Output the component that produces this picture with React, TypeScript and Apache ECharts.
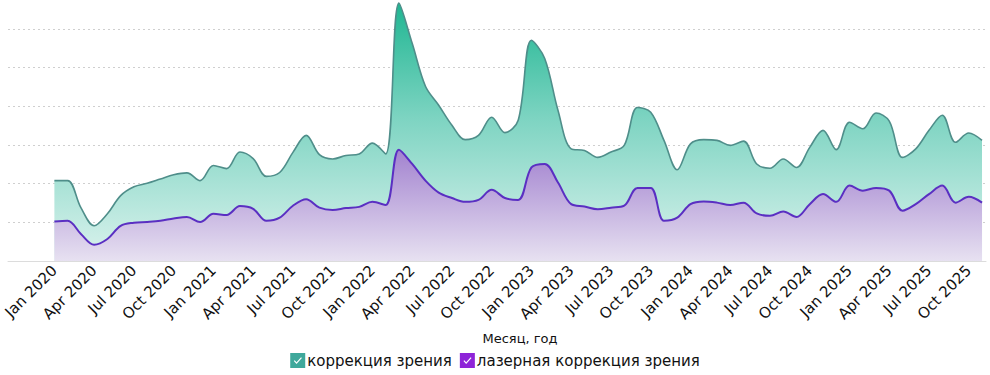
import React, { useEffect, useRef } from "react";
import * as echarts from "echarts";

const monthNames = ["Jan", "Feb", "Mar", "Apr", "May", "Jun", "Jul", "Aug", "Sep", "Oct", "Nov", "Dec"];
const years = [2020, 2021, 2022, 2023, 2024, 2025];
const categories: string[] = [];
years.forEach((y) => monthNames.forEach((m) => categories.push(m + " " + y)));
const months = categories.slice(0, 71); // Jan 2020 .. Nov 2025

const correction = [
  20.8, 20.8, 13.8, 9.1, 12.2, 16.9, 19.2, 20.1, 21.2, 22.3, 22.8, 20.8,
  24.7, 23.9, 28.2, 26.5, 21.9, 22.9, 28.1, 32.5, 27.5, 26.4, 27.3, 27.7,
  30.5, 27.7, 66.7, 56.3, 45.2, 40.3, 35.1, 31.4, 32.5, 37.2, 33.2, 36.4,
  57.1, 52.4, 39.0, 29.0, 28.6, 26.8, 28.2, 29.9, 39.7, 38.5, 31.2, 23.6,
  30.3, 31.4, 31.2, 29.9, 31.0, 25.1, 24.0, 26.4, 24.2, 29.4, 33.8, 28.8,
  35.9, 34.2, 38.3, 36.2, 26.8, 29.0, 33.8, 37.7, 30.7, 33.1, 31.2,
];

const laser = [
  10.2, 10.4, 7.0, 4.2, 5.7, 9.1, 9.9, 10.1, 10.4, 11.0, 11.4, 10.1,
  12.2, 11.9, 14.2, 13.5, 10.4, 11.2, 14.3, 16.0, 13.8, 13.2, 13.7, 14.0,
  15.3, 14.5, 28.8, 25.1, 20.8, 17.7, 16.3, 15.3, 15.8, 18.4, 16.3, 15.8,
  24.2, 25.1, 20.3, 14.7, 14.1, 13.4, 13.8, 14.3, 18.9, 18.9, 10.4, 11.2,
  14.7, 15.4, 15.1, 14.5, 15.1, 12.3, 11.7, 12.8, 11.4, 14.7, 17.3, 15.3,
  19.5, 18.2, 18.9, 18.2, 13.0, 14.7, 17.3, 19.5, 15.1, 16.6, 15.1,
];

const tickIndices = months.map((_, i) => i).filter((i) => i % 3 === 0);
const seriesNames = ["коррекция зрения", "лазерная коррекция зрения"];

const checkIcon =
  "path://M0,0 L100,0 L100,100 L0,100 Z M24,54 L42,74 L78,34 L72,28 L42,61 L30,48 Z";

export default function App() {
  const ref = useRef<HTMLDivElement>(null);
  useEffect(() => {
    if (!ref.current) return;
    const chart = echarts.init(ref.current, undefined, { renderer: "svg" });
    chart.setOption({
      animation: false,
      textStyle: { fontFamily: "DejaVu Sans" },
      grid: { left: 8, right: 4, top: 2, bottom: 114, containLabel: false },
      legend: {
        bottom: 2,
        left: "center",
        itemWidth: 15,
        itemHeight: 15,
        itemGap: 8,
        icon: checkIcon,
        textStyle: { fontSize: 15, color: "#111", fontFamily: "DejaVu Sans", padding: [0, 0, 0, -3] },
        data: [
          { name: seriesNames[0], itemStyle: { color: "#3fa89b", borderWidth: 0 } },
          { name: seriesNames[1], itemStyle: { color: "#8e24d8", borderWidth: 0 } },
        ],
      },
      xAxis: {
        type: "value",
        min: -3.5,
        max: months.length - 1 + 0.3,
        name: "Месяц, год",
        nameLocation: "middle",
        nameGap: 71,
        nameTextStyle: { fontSize: 13, color: "#111", padding: [0, 0, 0, 46] },
        axisLine: { show: true, lineStyle: { color: "#dcdcdc", width: 1 } },
        axisTick: { show: false },
        splitLine: { show: false },
        axisLabel: {
          customValues: tickIndices,
          rotate: 45,
          margin: 7,
          fontSize: 15,
          color: "#111",
          formatter: (v: number) => months[Math.round(v)] ?? "",
        },
      },
      yAxis: {
        type: "value",
        min: 0,
        max: 67,
        interval: 10,
        axisLine: { show: false },
        axisTick: { show: false },
        axisLabel: { show: false },
        splitLine: {
          show: true,
          showMinLine: false,
          showMaxLine: false,
          lineStyle: { color: "#cfcfcf", type: [2, 3], width: 1 },
        },
      },
      series: [
        {
          name: seriesNames[0],
          type: "line",
          smooth: 0.35,
          symbol: "none",
          clip: false,
          data: correction.map((v, i) => [i, v]),
          itemStyle: { color: "#3fa89b" },
          lineStyle: { color: "#4f8e8a", width: 1.6 },
          areaStyle: {
            opacity: 1,
            color: new echarts.graphic.LinearGradient(0, 0, 0, 1, [
              { offset: 0, color: "#1fb692" },
              { offset: 0.45, color: "#7ed4c2" },
              { offset: 1, color: "#dcf3ee" },
            ]),
          },
          z: 2,
        },
        {
          name: seriesNames[1],
          type: "line",
          smooth: 0.35,
          symbol: "none",
          clip: false,
          data: laser.map((v, i) => [i, v]),
          itemStyle: { color: "#8e24d8" },
          lineStyle: { color: "#5a2fc2", width: 2 },
          areaStyle: {
            opacity: 1,
            color: new echarts.graphic.LinearGradient(0, 0, 0, 1, [
              { offset: 0, color: "#a282cf" },
              { offset: 1, color: "#e7e1f1" },
            ]),
          },
          z: 3,
        },
      ],
    });
    return () => chart.dispose();
  }, []);
  return (
    <div
      ref={ref}
      style={{ position: "fixed", left: 0, top: 0, width: 990, height: 375, background: "#fff" }}
    />
  );
}
